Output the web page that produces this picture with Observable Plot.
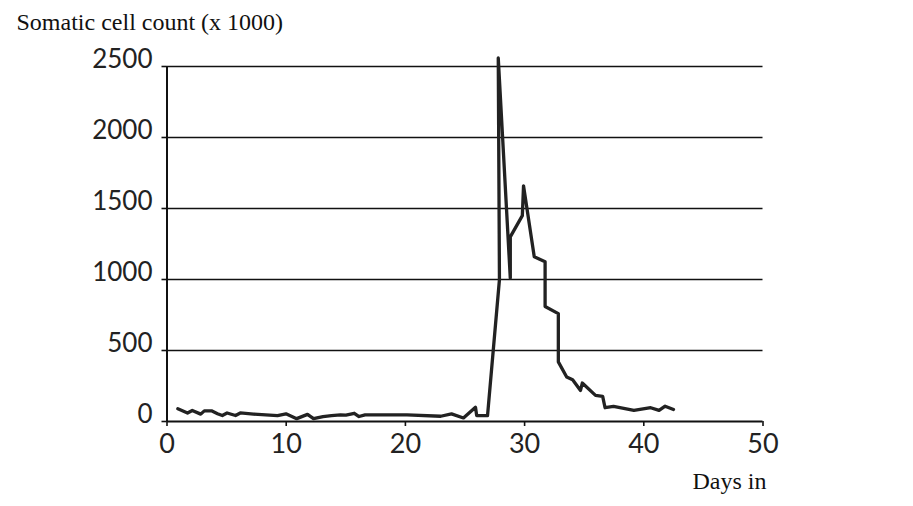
<!DOCTYPE html>
<html>
<head>
<meta charset="utf-8">
<script src="https://cdn.jsdelivr.net/npm/d3@7"></script>
<script src="https://cdn.jsdelivr.net/npm/@observablehq/plot@0.6"></script>
<style>
  body { margin: 0; background: #fff; }
  #chart svg { display: block; }
</style>
</head>
<body>
<div id="chart"></div>
<script>
const days = [0.91, 1.72, 2.12, 2.83, 3.13, 3.73, 4.24, 4.64, 5.04, 5.75, 6.15, 7.26, 9.27, 9.98, 10.88, 11.79, 12.29, 13.09, 13.8, 14.55, 15.01, 15.71, 16.11, 16.62, 20.14, 22.96, 23.87, 24.87, 25.88, 25.98, 26.89, 27.89, 27.79, 28.8, 28.8, 29.81, 29.91, 30.81, 31.72, 31.72, 32.83, 32.83, 33.53, 34.03, 34.69, 34.84, 35.95, 36.55, 36.75, 37.46, 39.17, 40.58, 41.28, 41.79, 42.49];
const counts = [90, 60, 78, 52, 75, 75, 55, 42, 60, 42, 60, 52, 42, 54, 20, 50, 20, 35, 42, 47, 45, 58, 35, 47, 47, 37, 54, 25, 100, 42, 42, 1000, 2560, 1010, 1300, 1450, 1660, 1160, 1125, 810, 760, 420, 313, 294, 219, 271, 184, 177, 97, 106, 78, 97, 78, 108, 85];
const yTicks = [0, 500, 1000, 1500, 2000, 2500];
const xTicks = [0, 10, 20, 30, 40, 50];
const gridValues = [500, 1000, 1500, 2000, 2500];
const titleText = "Somatic cell count (x 1000)";
const xLabelText = "Days in";

const data = days.map((d, i) => ({day: d, count: counts[i]}));

const chart = Plot.plot({
  width: 913,
  height: 506,
  marginLeft: 166.5,
  marginRight: 150.5,
  marginTop: 66,
  marginBottom: 85,
  style: {background: "#fff", color: "#222"},
  x: {type: "linear", domain: [0, 50], axis: null},
  y: {type: "linear", domain: [0, 2500], axis: null},
  marks: [
    Plot.ruleY(gridValues, {x1: 0, x2: 50, stroke: "#111", strokeWidth: 1.6}),
    Plot.ruleY([0], {x1: 0, x2: 50, stroke: "#111", strokeWidth: 2}),
    Plot.ruleX([0], {y1: 0, y2: 2500, stroke: "#111", strokeWidth: 2}),
    Plot.axisY({ticks: yTicks, tickSize: 5, text: null, stroke: "#111", strokeWidth: 1.6, label: null}),
    Plot.axisX({ticks: xTicks, tickSize: 5, text: null, stroke: "#111", strokeWidth: 1.6, label: null}),
    Plot.text(yTicks, {
      x: () => 0, y: d => d, text: d => String(d), textAnchor: "end", lineAnchor: "bottom",
      dx: -14.5, dy: 1, fontSize: 26, fontFamily: "Lato", fill: "#222"
    }),
    Plot.text(xTicks, {
      x: d => d, y: () => 0, text: d => String(d), textAnchor: "middle", lineAnchor: "top",
      dy: 12, fontSize: 27, fontFamily: "Lato", fill: "#222"
    }),
    Plot.line(data, {x: "day", y: "count", stroke: "#222", strokeWidth: 3.3, strokeLinejoin: "round"}),
    Plot.text([titleText], {
      frameAnchor: "top-left", dx: -150.5, dy: -36.7, textAnchor: "start", lineAnchor: "bottom",
      fontSize: 24, fontFamily: "Liberation Serif", fill: "#111"
    }),
    Plot.text([xLabelText], {
      frameAnchor: "bottom-right", dx: 3.5, dy: 67, textAnchor: "end", lineAnchor: "bottom",
      fontSize: 24, fontFamily: "Liberation Serif", fill: "#111"
    })
  ]
});
document.getElementById("chart").append(chart);
</script>
</body>
</html>
